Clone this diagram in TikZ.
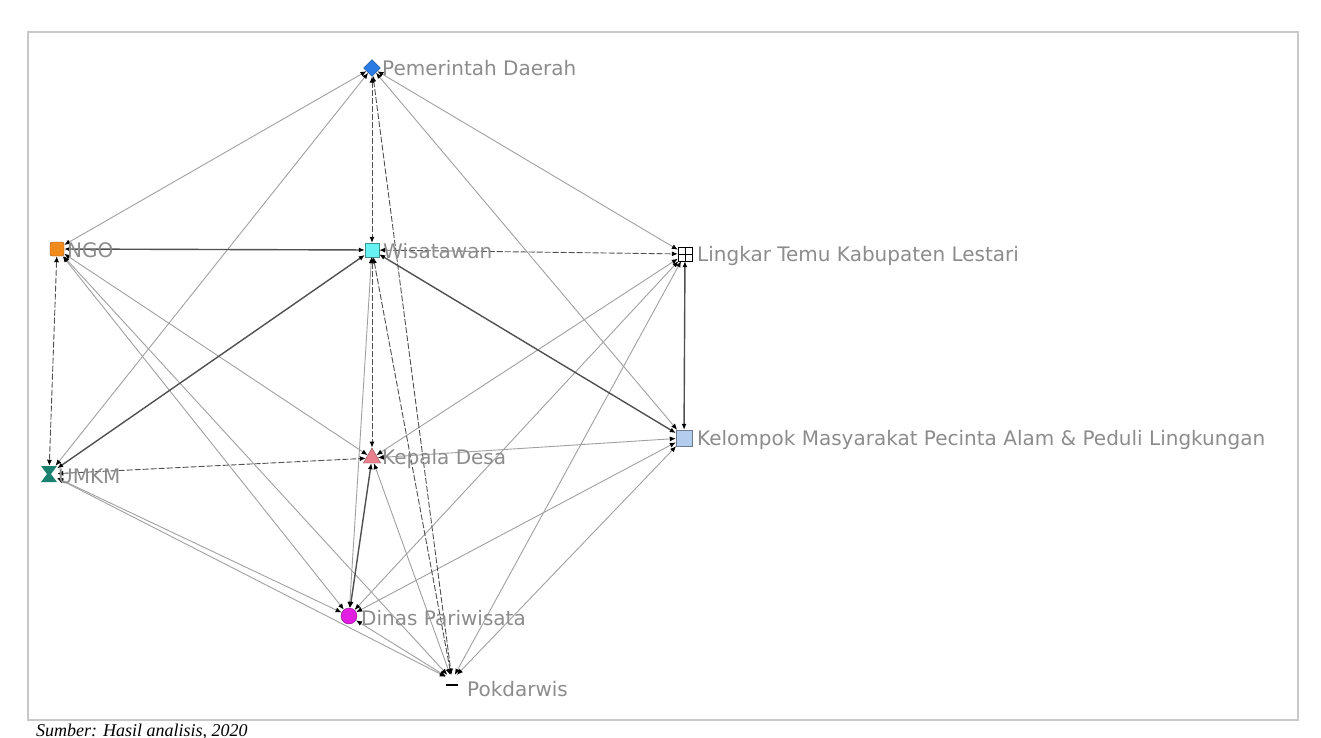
\documentclass[tikz,border=0pt]{standalone}
\usepackage{fontspec}
\setsansfont{DejaVu Sans}
\newfontfamily\capfont{Liberation Serif}
\usetikzlibrary{arrows.meta, shapes.geometric}
\definecolor{cframe}{HTML}{C8C8C8}
\definecolor{clabel}{HTML}{8C8C8C}
\definecolor{ctie}{HTML}{A0A0A0}
\definecolor{cdark}{HTML}{505050}
\definecolor{cpd}{HTML}{2A7BE4}
\definecolor{cngo}{HTML}{F08A1C}
\definecolor{cwis}{HTML}{66F2F2}
\definecolor{ckmpa}{HTML}{B4CCEE}
\definecolor{cumkm}{HTML}{1A8070}
\definecolor{ckd}{HTML}{E8808E}
\definecolor{cdp}{HTML}{E21EE2}
\tikzset{
  every picture/.style={x=1pt, y=-1pt},
  endtip/.tip={Latex[length=6pt, width=5pt, color=black]},
  actor/.style={draw=#1!60!black, fill=#1, minimum size=14pt, inner sep=0pt},
  lbl/.style={font=\sffamily\fontsize{20}{22}\selectfont, text=clabel, anchor=west, inner sep=0pt},
  tie/.style={endtip-endtip, draw=ctie, line width=0.9pt},
  strongtie/.style={tie, draw=cdark, line width=1.4pt},
  dashtie/.style={tie, draw=cdark, dash pattern=on 6pt off 2pt},
}

\begin{document}
\begin{tikzpicture}
  \useasboundingbox (0,0) rectangle (1321,738);
  \draw[cframe, line width=1.5pt] (28,32) rectangle (1298,720);
  % actors
  \node[actor=cpd, shape=diamond, minimum size=17pt] (pd) at (372,68) {};
  \node[actor=cngo, rounded corners=2pt] (ngo) at (57,249) {};
  \node[actor=cwis] (wis) at (372,250) {};
  \node[actor=white, draw=black, path picture={
      \draw (path picture bounding box.north) -- (path picture bounding box.south)
            (path picture bounding box.west) -- (path picture bounding box.east);}] (ltkl) at (685,254) {};
  \node[actor=ckmpa, minimum size=16pt] (kmpa) at (684,438) {};
  \node[minimum size=16pt, inner sep=0pt] (umkm) at (49,474) {};
  \fill[cumkm] (41,466) -- (57,466) -- (51,474) -- (57,482) -- (41,482) -- (47,474) -- cycle;
  \node[actor=ckd, shape=regular polygon, regular polygon sides=3, minimum size=20pt] (kd) at (372,458) {};
  \node[actor=cdp, shape=circle, minimum size=16pt] (dp) at (349,616) {};
  \node[minimum width=12pt, minimum height=10pt, inner sep=0pt] (pok) at (452,680) {};
  \draw[line width=1.5pt] (pok.south west) -- (pok.south east);
  % ties
  \foreach \a/\b in {ngo/pd, umkm/pd, pd/ltkl, pd/kmpa, ngo/kd, ngo/dp, ngo/pok, umkm/dp, umkm/pok,
                     wis/dp, ltkl/kd, ltkl/dp, ltkl/pok, kmpa/kd, kmpa/dp, kmpa/pok, kd/pok, dp/pok}
    \draw[tie] (\a) -- (\b);
  \foreach \a/\b in {ngo/wis, umkm/wis, wis/kmpa, ltkl/kmpa, kd/dp}
    \draw[strongtie] (\a) -- (\b);
  \foreach \a/\b in {pd/pok, wis/pok, umkm/kd, ngo/umkm, pd/wis, wis/kd, wis/ltkl}
    \draw[dashtie] (\a) -- (\b);
  % labels
  \node[lbl] (pd-l) at (382,68) {Pemerintah Daerah};
  \node[lbl] (ngo-l) at (67,250) {NGO};
  \node[lbl] (wis-l) at (383,251) {Wisatawan};
  \node[lbl] (ltkl-l) at (697,256) {Lingkar Temu Kabupaten Lestari};
  \node[lbl] (kmpa-l) at (697,440) {Kelompok Masyarakat Pecinta Alam \& Peduli Lingkungan};
  \node[lbl] (umkm-l) at (58,476) {UMKM};
  \node[lbl] (kd-l) at (382,459) {Kepala Desa};
  \node[lbl] (dp-l) at (361,618) {Dinas Pariwisata};
  \node[lbl] (pok-l) at (467,689) {Pokdarwis};
  \node[font=\capfont\itshape\fontsize{18}{20}\selectfont, anchor=base west, inner sep=0pt] (src) at (36,736) {Sumber: Hasil analisis, 2020};
\end{tikzpicture}
\end{document}
